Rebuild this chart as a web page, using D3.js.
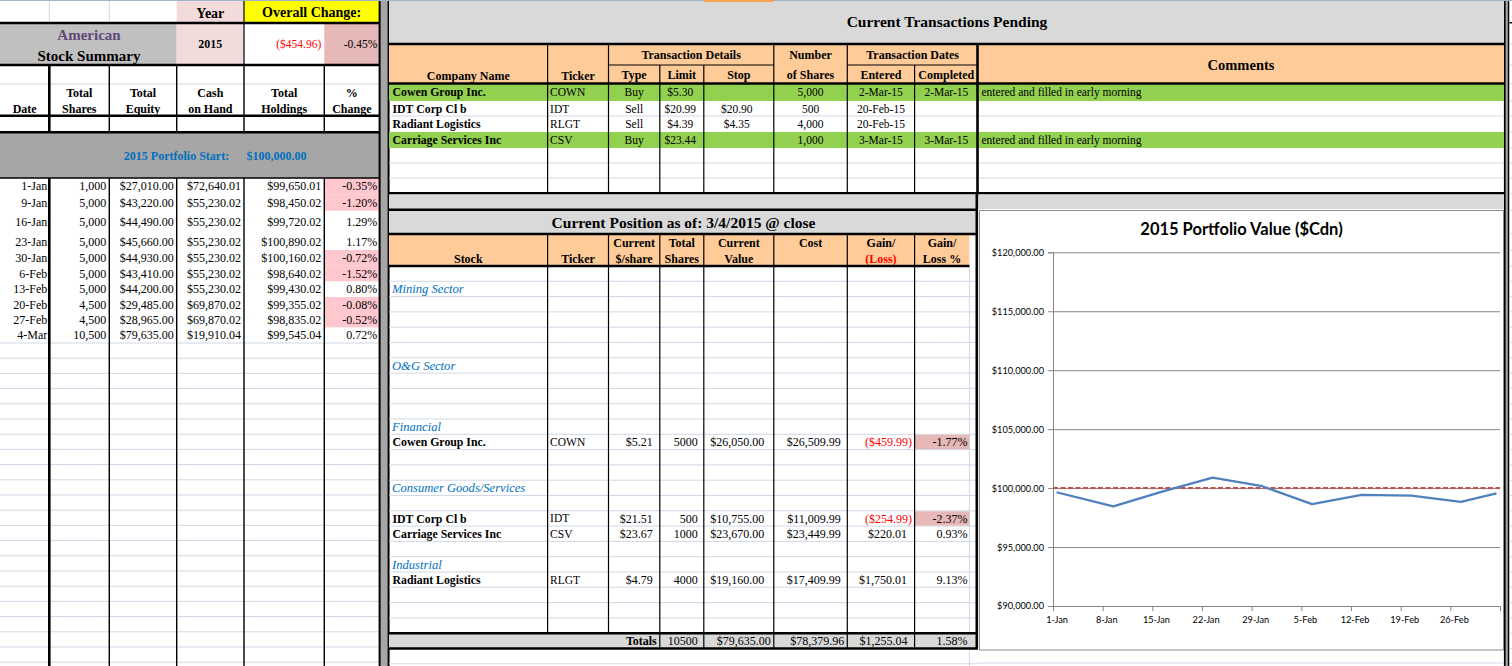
<!DOCTYPE html>
<html>
<head>
<meta charset="utf-8">
<script src="https://cdn.jsdelivr.net/npm/d3@7"></script>
<style>
  body { margin: 0; background: #fff; overflow: hidden; }
  svg { display: block; }
  text { font-family: "Liberation Serif", "Times New Roman", serif; }
  .chart text { font-family: Lato, "Liberation Sans", sans-serif; }
</style>
</head>
<body>
<svg width="1512" height="666"></svg>
<script>
// ---- data ----
const reportYear = 2015;
const portfolioStart = 100000;

const summaryDates = ["1-Jan", "9-Jan", "16-Jan", "23-Jan", "30-Jan", "6-Feb", "13-Feb", "20-Feb", "27-Feb", "4-Mar"];
const totalShares = [1000, 5000, 5000, 5000, 5000, 5000, 5000, 4500, 4500, 10500];
const totalEquity = [27010.00, 43220.00, 44490.00, 45660.00, 44930.00, 43410.00, 44200.00, 29485.00, 28965.00, 79635.00];
const cashOnHand = [72640.01, 55230.02, 55230.02, 55230.02, 55230.02, 55230.02, 55230.02, 69870.02, 69870.02, 19910.04];
const totalHoldings = [99650.01, 98450.02, 99720.02, 100890.02, 100160.02, 98640.02, 99430.02, 99355.02, 98835.02, 99545.04];
const pctChange = [-0.35, -1.20, 1.29, 1.17, -0.72, -1.52, 0.80, -0.08, -0.52, 0.72];

const txCompany = ["Cowen Group Inc.", "IDT Corp Cl b", "Radiant Logistics", "Carriage Services Inc"];
const txTicker = ["COWN", "IDT", "RLGT", "CSV"];
const txType = ["Buy", "Sell", "Sell", "Buy"];
const txLimit = [5.30, 20.99, 4.39, 23.44];
const txStop = [null, 20.90, 4.35, null];
const txShares = [5000, 500, 4000, 1000];
const txEntered = ["2-Mar-15", "20-Feb-15", "20-Feb-15", "3-Mar-15"];
const txCompleted = ["2-Mar-15", "", "", "3-Mar-15"];
const txComment = ["entered and filled in early morning", "", "", "entered and filled in early morning"];

const positionDate = "3/4/2015";
const sectorNames = ["Mining Sector", "O&G Sector", "Financial", "Consumer Goods/Services", "Industrial"];
const posStock = ["Cowen Group Inc.", "IDT Corp Cl b", "Carriage Services Inc", "Radiant Logistics"];
const posTicker = ["COWN", "IDT", "CSV", "RLGT"];
const posPrice = [5.21, 21.51, 23.67, 4.79];
const posShares = [5000, 500, 1000, 4000];
const posValue = [26050.00, 10755.00, 23670.00, 19160.00];
const posCost = [26509.99, 11009.99, 23449.99, 17409.99];
const posGain = [-459.99, -254.99, 220.01, 1750.01];
const posGainPct = [-1.77, -2.37, 0.93, 9.13];

const yTicks = [90000, 95000, 100000, 105000, 110000, 115000, 120000];

// ---- layout ----
const svg = d3.select("svg");
const grid = "#D0D7E5";
const loc = d3.formatLocale({ decimal: ".", thousands: ",", grouping: [3], currency: ["$", ""], minus: "-" });
const fmt2 = loc.format(",.2f");
const fmtInt = loc.format(",");
const money = v => v < 0 ? "($" + fmt2(-v) + ")" : "$" + fmt2(v);
const pct = v => loc.format(".2f")(v) + "%";

function rect(x0, y0, x1, y1, fill) {
  svg.append("rect").attr("x", x0).attr("y", y0).attr("width", x1 - x0).attr("height", y1 - y0).attr("fill", fill);
}
function hline(x0, x1, y, w, c) {
  svg.append("line").attr("x1", x0).attr("x2", x1).attr("y1", y).attr("y2", y)
    .attr("stroke", c || "#000").attr("stroke-width", w || 1);
}
function vline(x, y0, y1, w, c) {
  svg.append("line").attr("x1", x).attr("x2", x).attr("y1", y0).attr("y2", y1)
    .attr("stroke", c || "#000").attr("stroke-width", w || 1);
}
function txt(x, y, s, o) {
  o = o || {};
  return svg.append("text").attr("x", x).attr("y", y).attr("dy", "0.35em")
    .attr("text-anchor", o.anchor || "start")
    .attr("font-size", o.size || 12)
    .attr("font-weight", o.bold ? "bold" : null)
    .attr("font-style", o.italic ? "italic" : null)
    .attr("fill", o.color || "#000")
    .text(s);
}

rect(0, 0, 1512, 666, "#fff");

// ===== left: stock summary =====
const LC = [0, 49.3, 109.3, 176.7, 244, 324.3, 379.3];
const lmid = i => (LC[i] + LC[i + 1]) / 2;
const lRows = [178, 194.3, 210.7, 233.5, 250, 265.7, 281.3, 297, 312, 327.3, 343];
const lGrid = d3.range(343, 667, 15.2);

lGrid.forEach(y => hline(0, 379, y, 1, grid));
hline(0, 379, 84, 1, grid);
vline(LC[1], 0, 23, 1, grid);
vline(LC[2], 0, 23, 1, grid);

rect(LC[3], 0, LC[4], 23, "#F2DCDB");
rect(LC[4], 0, LC[6], 23, "#FFFF00");
rect(0, 23, LC[3], 65, "#C0C0C0");
rect(LC[3], 23, LC[4], 65, "#F2DCDB");
rect(LC[5], 23, LC[6], 65, "#E6B8B7");
rect(0, 132.3, LC[6], 178, "#A6A6A6");

txt(lmid(3), 13.5, "Year", { size: 14, bold: true, anchor: "middle" });
txt((LC[4] + LC[6]) / 2, 12, "Overall Change:", { size: 14, bold: true, anchor: "middle" });
txt(89, 35, "American", { size: 15, bold: true, anchor: "middle", color: "#60497A" });
txt(89, 56, "Stock Summary", { size: 15, bold: true, anchor: "middle" });
txt(lmid(3), 43.5, String(reportYear), { size: 12, bold: true, anchor: "middle" });
const overall = totalHoldings[totalHoldings.length - 1] - portfolioStart;
txt(LC[5] - 3, 43.5, money(overall), { size: 11.5, anchor: "end", color: "#FF0000" });
txt(LC[6] - 2, 43.5, pct(overall / portfolioStart * 100), { size: 11.5, anchor: "end" });

const headTop = ["", "Total", "Total", "Cash", "Total", "%"];
const headBot = ["Date", "Shares", "Equity", "on Hand", "Holdings", "Change"];
headTop.forEach((s, i) => txt(lmid(i), 92.3, s, { size: 12, bold: true, anchor: "middle" }));
headBot.forEach((s, i) => txt(lmid(i), 108.3, s, { size: 12, bold: true, anchor: "middle" }));

txt(176.5, 155.5, reportYear + " Portfolio Start:", { size: 12, bold: true, anchor: "middle", color: "#0070C0" });
txt(276.5, 155.5, "$" + fmt2(portfolioStart), { size: 12, bold: true, anchor: "middle", color: "#0070C0" });

summaryDates.forEach((d, i) => {
  const y0 = lRows[i], y1 = lRows[i + 1], ym = (y0 + y1) / 2;
  if (pctChange[i] < 0) rect(LC[5], y0, LC[6], y1, "#FFC7CE");
  txt(LC[1] - 2, ym, d, { anchor: "end" });
  txt(LC[2] - 3, ym, fmtInt(totalShares[i]), { anchor: "end" });
  txt(LC[3] - 3, ym, money(totalEquity[i]), { anchor: "end" });
  txt(LC[4] - 3, ym, money(cashOnHand[i]), { anchor: "end" });
  txt(LC[5] - 3, ym, money(totalHoldings[i]), { anchor: "end" });
  txt(LC[6] - 2, ym, pct(pctChange[i]), { anchor: "end" });
});

hline(0, 379, 23, 2.5);
hline(0, 379, 65, 2.5);
hline(0, 379, 115.7, 2.5);
hline(0, 379, 132.3, 2.5);
hline(0, 379, 178, 1.5);
vline(LC[4], 0, 65, 1.2);
[[65, 132.3], [178, 666]].forEach(([a, b]) => {
  vline(LC[1], a, b, 2.6);
  [2, 3, 4, 5].forEach(i => vline(LC[i], a, b, 1.4));
});

// separators
rect(380, 0, 388, 666, "#A6A6A6");
vline(379.6, 0, 666, 2);
vline(388.6, 0, 666, 2);
rect(1505.6, 0, 1507.8, 666, "#A6A6A6");
vline(1504.8, 0, 666, 1.8);
vline(1508.5, 0, 666, 1.5);
[22.7, 44, 65, 83.5, 101, 116, 132, 148, 163, 178, 193.5, 210.5, 233.5, 250.5].concat(d3.range(266, 667, 15.3))
  .forEach(y => hline(1509.5, 1512, y, 1, grid));
hline(1509.5, 1512, 22.7, 1.5, "#000");

// ===== right top: transactions pending =====
const RC = [389, 547.6, 608.5, 659.8, 703.8, 773.8, 847.3, 914.6, 978, 1504];
const rmid = i => (RC[i] + RC[i + 1]) / 2;
const tRows = [83.5, 101, 116, 132, 148, 163, 178, 193.3];

rect(389, 0, 1504, 44, "#D9D9D9");
rect(389, 44, 1504, 83.5, "#FFCC99");
[116, 163, 178].forEach(y => hline(389, 1504, y, 1, grid));
txt(947, 22, "Current Transactions Pending", { size: 15.5, bold: true, anchor: "middle" });

txt(rmid(0), 76, "Company Name", { size: 12, bold: true, anchor: "middle" });
txt(rmid(1), 76, "Ticker", { size: 12, bold: true, anchor: "middle" });
txt((RC[2] + RC[5]) / 2, 54.5, "Transaction Details", { size: 12, bold: true, anchor: "middle" });
txt(rmid(2), 74.5, "Type", { size: 12, bold: true, anchor: "middle" });
txt(rmid(3), 74.5, "Limit", { size: 12, bold: true, anchor: "middle" });
txt(rmid(4), 74.5, "Stop", { size: 12, bold: true, anchor: "middle" });
txt(rmid(5), 54.5, "Number", { size: 12, bold: true, anchor: "middle" });
txt(rmid(5), 74.5, "of Shares", { size: 12, bold: true, anchor: "middle" });
txt((RC[6] + RC[8]) / 2, 54.5, "Transaction Dates", { size: 12, bold: true, anchor: "middle" });
txt(rmid(6), 74.5, "Entered", { size: 12, bold: true, anchor: "middle" });
txt(rmid(7), 74.5, "Completed", { size: 12, bold: true, anchor: "middle" });
txt(rmid(8), 64.5, "Comments", { size: 14.5, bold: true, anchor: "middle" });

txCompany.forEach((c, i) => {
  const y0 = tRows[i], y1 = tRows[i + 1], ym = (y0 + y1) / 2;
  if (txCompleted[i]) rect(389, y0, 1504, y1, "#92D050");
  txt(RC[0] + 3.5, ym, c, { size: 11.8, bold: true });
  txt(RC[1] + 2.5, ym, txTicker[i], { size: 11.5 });
  txt(rmid(2), ym, txType[i], { size: 11.5, anchor: "middle" });
  txt(rmid(3) - 1.5, ym, money(txLimit[i]), { size: 11.5, anchor: "middle" });
  if (txStop[i] != null) txt(rmid(4) - 2, ym, money(txStop[i]), { size: 11.5, anchor: "middle" });
  txt(rmid(5), ym, fmtInt(txShares[i]), { size: 11.5, anchor: "middle" });
  txt(rmid(6), ym, txEntered[i], { size: 11.5, anchor: "middle" });
  if (txCompleted[i]) txt(rmid(7), ym, txCompleted[i], { size: 11.5, anchor: "middle" });
  if (txComment[i]) txt(RC[8] + 3.5, ym, txComment[i], { size: 11.5 });
});

hline(389, 1504, 44, 2.5);
hline(389, 1504, 83.5, 2.5);
hline(389, 1504, 193.3, 2.5);
hline(RC[2], RC[5], 65, 1);
hline(RC[6], RC[8], 65, 1);
[1, 2, 5, 6].forEach(i => vline(RC[i], 44, 193.3, 1.2));
[3, 4, 7].forEach(i => vline(RC[i], 65, 193.3, 1.2));
vline(RC[8] - 0.5, 44, 193.3, 2.6);

// gray band
rect(389, 194.5, 1504, 209, "#D9D9D9");

// ===== right middle: current position =====
const PC = [389, 547.6, 608.5, 659.8, 703.8, 773.8, 847.3, 914.6, 969.4, 978];
const pmid = i => (PC[i] + PC[i + 1]) / 2;
const rowY = d3.scaleLinear().domain([0, 1]).range([266, 281.3]);
const sectorRowIdx = [1, 6, 10, 14, 19];
const stockRowIdx = [11, 16, 17, 20];
const totalsIdx = 24;

rect(389, 209.5, 978, 234, "#D9D9D9");
rect(389, 234, 969.4, 266, "#FFCC99");
d3.range(1, 27).forEach(k => hline(389, 978, rowY(k), 1, grid));
vline(969.4, 266, 666, 1, grid);
hline(978, 1504, 663, 1, grid);
txt(683.5, 222.5, "Current Position as of: " + positionDate + " @ close", { size: 15.5, bold: true, anchor: "middle" });

txt(pmid(0), 259, "Stock", { size: 12, bold: true, anchor: "middle" });
txt(pmid(1), 259, "Ticker", { size: 12, bold: true, anchor: "middle" });
txt(pmid(2), 243, "Current", { size: 12, bold: true, anchor: "middle" });
txt(pmid(2), 259, "$/share", { size: 12, bold: true, anchor: "middle" });
txt(pmid(3), 243, "Total", { size: 12, bold: true, anchor: "middle" });
txt(pmid(3), 259, "Shares", { size: 12, bold: true, anchor: "middle" });
txt(pmid(4), 243, "Current", { size: 12, bold: true, anchor: "middle" });
txt(pmid(4), 259, "Value", { size: 12, bold: true, anchor: "middle" });
txt(pmid(5), 243, "Cost", { size: 12, bold: true, anchor: "middle" });
txt(pmid(6), 243, "Gain/", { size: 12, bold: true, anchor: "middle" });
txt(pmid(6), 259, "(Loss)", { size: 12, bold: true, anchor: "middle", color: "#FF0000" });
txt(pmid(7), 243, "Gain/", { size: 12, bold: true, anchor: "middle" });
txt(pmid(7), 259, "Loss %", { size: 12, bold: true, anchor: "middle" });

sectorNames.forEach((s, i) => {
  const k = sectorRowIdx[i];
  txt(392, (rowY(k) + rowY(k + 1)) / 2, s, { size: 12.6, italic: true, color: "#0070C0" });
});

posStock.forEach((s, i) => {
  const k = stockRowIdx[i], y0 = rowY(k), y1 = rowY(k + 1), ym = (y0 + y1) / 2;
  if (posGainPct[i] < 0) rect(PC[7], y0 + 0.5, PC[8], y1 - 0.5, "#E6B8B7");
  txt(PC[0] + 3.5, ym, s, { size: 11.8, bold: true });
  txt(PC[1] + 2.5, ym, posTicker[i], { size: 11.5 });
  txt(PC[3] - 7, ym, money(posPrice[i]), { anchor: "end" });
  txt(PC[4] - 6, ym, String(posShares[i]), { anchor: "end" });
  txt(PC[5] - 9.5, ym, money(posValue[i]), { anchor: "end" });
  txt(PC[6] - 6.5, ym, money(posCost[i]), { anchor: "end" });
  txt(PC[7] - (posGain[i] < 0 ? 2.5 : 7.5), ym, money(posGain[i]), { anchor: "end", color: posGain[i] < 0 ? "#FF0000" : "#000" });
  txt(PC[8] - 2, ym, pct(posGainPct[i]), { anchor: "end" });
});

// totals row
const tY0 = rowY(totalsIdx), tY1 = rowY(totalsIdx + 1), tYm = (tY0 + tY1) / 2;
rect(389, tY0, 978, tY1, "#D9D9D9");
const sumShares = d3.sum(posShares), sumValue = d3.sum(posValue), sumCost = d3.sum(posCost), sumGain = d3.sum(posGain);
txt(PC[3] - 3, tYm, "Totals", { size: 12, bold: true, anchor: "end" });
txt(PC[4] - 6, tYm, String(sumShares), { anchor: "end" });
txt(PC[5] - 3, tYm, money(sumValue), { anchor: "end" });
txt(PC[6] - 3, tYm, money(sumCost), { anchor: "end" });
txt(PC[7] - 7, tYm, money(sumGain), { anchor: "end" });
txt(PC[8] - 2, tYm, pct(sumGain / sumValue * 100), { anchor: "end" });

hline(389, 978, 209.8, 2.5);
hline(389, 978, 234, 2.5);
hline(389, 969.4, 266, 2.5);
hline(389, 978, tY0, 2.5);
hline(389, 978, tY1, 2.5);
[1, 2].forEach(i => vline(PC[i], 234, tY0, 1.2));
[3, 4, 5, 6, 7].forEach(i => vline(PC[i], 234, tY1, 1.2));
vline(976.8, 193.3, 648, 2.6);

// ===== chart =====
const chart = svg.append("g").attr("class", "chart");
chart.append("rect").attr("x", 979.5).attr("y", 210.5).attr("width", 1503.5 - 979.5).attr("height", 650 - 210.5)
  .attr("fill", "#fff").attr("stroke", "#8C8C8C").attr("stroke-width", 1);

const parseDay = d3.timeParse("%d-%b-%Y");
const pts = summaryDates.map((d, i) => ({ date: parseDay(d + "-" + reportYear), value: totalHoldings[i] }));
const x0 = new Date(reportYear, 0, 1), x1 = new Date(reportYear, 2, 5);
const x = d3.scaleTime().domain([x0, x1]).range([1053, 1500]);
const y = d3.scaleLinear().domain([d3.min(yTicks), d3.max(yTicks)]).range([606, 252.3]);
const mid = d => d3.timeHour.offset(d, 12);
const halfDay = x(mid(x0)) - x(x0);

chart.append("g")
  .attr("transform", "translate(1053,0)")
  .call(d3.axisLeft(y).tickValues(yTicks).tickSize(-(1500 - 1053)).tickFormat(""))
  .call(g => g.select(".domain").remove())
  .call(g => g.selectAll(".tick line").attr("stroke", "#868686"));

chart.append("g")
  .attr("transform", "translate(1053,0)")
  .call(d3.axisLeft(y).tickValues(yTicks).tickSize(5).tickPadding(4).tickFormat(d => "$" + fmt2(d)))
  .call(g => g.select(".domain").attr("stroke", "#868686"))
  .call(g => g.selectAll(".tick line").attr("stroke", "#868686"))
  .call(g => g.selectAll("text").attr("font-size", 9.2).attr("fill", "#000").attr("font-family", "Lato, sans-serif"));

const xTicks = d3.timeThursday.range(x0, d3.timeDay.offset(x1, 1));
const fmtTick = d3.timeFormat("%-d-%b");
chart.append("g")
  .attr("transform", "translate(0,606)")
  .call(d3.axisBottom(x).tickValues(xTicks).tickSize(5).tickPadding(5)
    .tickFormat(d => +d >= +x1 ? "" : fmtTick(d)))
  .call(g => g.select(".domain").attr("stroke", "#868686"))
  .call(g => g.selectAll(".tick line").attr("stroke", "#868686"))
  .call(g => g.selectAll("text").attr("x", halfDay).attr("font-size", 9.2).attr("fill", "#000").attr("font-family", "Lato, sans-serif"));

chart.append("path")
  .datum([x0, x1])
  .attr("d", d3.line().x(d => x(d)).y(() => y(portfolioStart)))
  .attr("fill", "none").attr("stroke", "#C0504D").attr("stroke-width", 2).attr("stroke-dasharray", "5,2.5");

chart.append("path")
  .datum(pts)
  .attr("d", d3.line().x(d => x(mid(d.date))).y(d => y(d.value)))
  .attr("fill", "none").attr("stroke", "#4F81BD").attr("stroke-width", 2.25).attr("stroke-linejoin", "round");

chart.append("text")
  .attr("x", 1241.5).attr("y", 229).attr("dy", "0.35em").attr("text-anchor", "middle")
  .attr("font-size", 16.5).attr("font-weight", "bold").attr("fill", "#000")
  .text(reportYear + " Portfolio Value ($Cdn)");

// sheet edge details
hline(0, 1512, 0.5, 1, "#9EB6CE");
hline(703.8, 773.8, 1, 2, "#F9A34F");
</script>
</body>
</html>
